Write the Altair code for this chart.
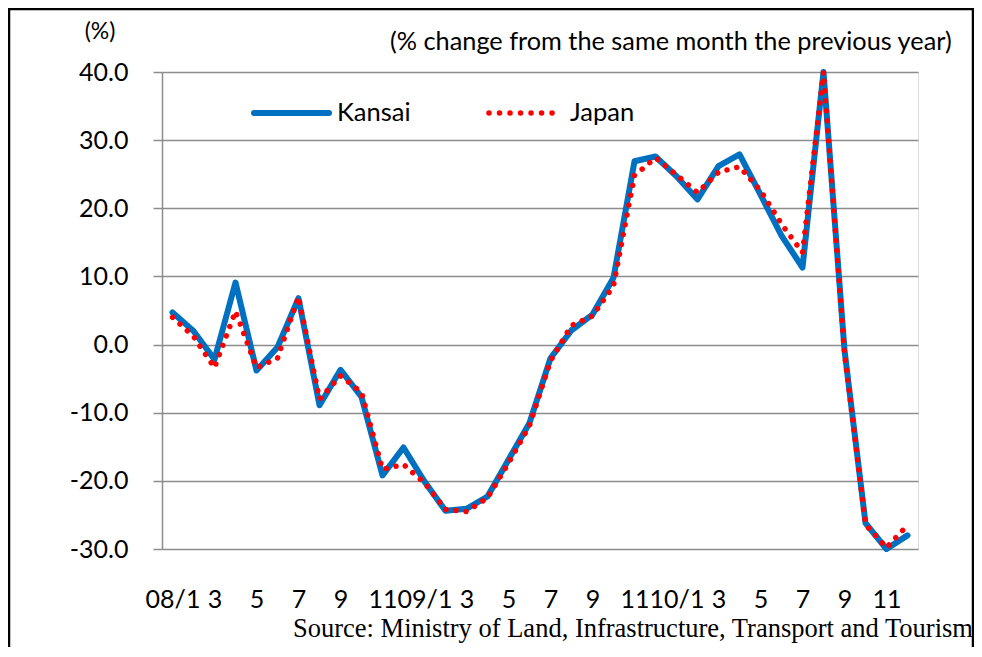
import altair as alt
import pandas as pd

months = ["08/1","08/2","08/3","08/4","08/5","08/6","08/7","08/8","08/9","08/10","08/11","08/12",
          "09/1","09/2","09/3","09/4","09/5","09/6","09/7","09/8","09/9","09/10","09/11","09/12",
          "10/1","10/2","10/3","10/4","10/5","10/6","10/7","10/8","10/9","10/10","10/11","10/12"]
tick_months = months[::2]

kansai = [4.7, 2.0, -2.2, 9.1, -3.8, -0.4, 6.8, -8.9, -3.7, -7.7, -19.2, -15.1,
          -20.1, -24.4, -24.1, -22.3, -16.9, -11.5, -2.0, 2.1, 4.4, 9.8, 26.9, 27.6,
          24.7, 21.3, 26.2, 27.9, 22.0, 16.0, 11.3, 40.0, -0.8, -26.2, -30.0, -28.0]
japan = [4.0, 1.2, -3.4, 4.9, -3.4, -2.0, 7.0, -8.0, -4.6, -7.0, -18.3, -17.6,
         -20.3, -24.2, -24.5, -22.5, -17.4, -11.9, -2.4, 2.8, 4.2, 8.6, 24.8, 27.4,
         24.9, 22.3, 25.3, 26.1, 22.6, 17.7, 13.5, 40.0, -1.3, -26.4, -29.8, -26.5]
y_ticks = [-30, -20, -10, 0, 10, 20, 30, 40]

df = pd.DataFrame({"month": months, "kansai": kansai, "japan": japan})

W, H = 756, 477
FONT = "Lato"
GRID = "#8c8c8c"

xenc = alt.X("month:O",
             scale=alt.Scale(type="point", domain=months, padding=0.5),
             axis=alt.Axis(values=tick_months, title=None, labelAngle=0, ticks=False,
                           domain=False, grid=False, labelPadding=38, labelFont=FONT,
                           labelFontSize=25, labelColor="black",
                           labelExpr="split(datum.value,'/')[1] == '1' ? datum.value : split(datum.value,'/')[1]"))
yscale = alt.Scale(domain=[-30, 40], nice=False, zero=False)

kansai_line = alt.Chart(df).mark_line(color="#0070C0", strokeWidth=6, strokeJoin="round", strokeCap="round").encode(
    x=xenc,
    y=alt.Y("kansai:Q", scale=yscale,
            axis=alt.Axis(values=y_ticks, title=None, grid=True, gridColor=GRID,
                          gridWidth=1.5, domainColor=GRID, domainWidth=1.5, tickColor=GRID,
                          tickSize=9, tickWidth=1.5, labelPadding=25, labelFont=FONT,
                          labelFontSize=25, labelColor="black",
                          labelExpr="(datum.value < 0 ? '-' : '') + format(abs(datum.value), '.1f')")),
)
japan_line = alt.Chart(df).mark_line(color="#FF0000", strokeWidth=5.5, strokeCap="round",
                                     strokeDash=[0.01, 10]).encode(
    x=alt.X("month:O", scale=alt.Scale(type="point", domain=months, padding=0.5)),
    y=alt.Y("japan:Q", scale=yscale),
)

one = pd.DataFrame({"a": [0]})

def txt(s, x, y, size, align="left", font=FONT):
    return alt.Chart(one).mark_text(text=s, align=align, baseline="middle", font=font,
                                    fontSize=size, color="black").encode(
        x=alt.value(x), y=alt.value(y))

leg_k = alt.Chart(one).mark_rule(color="#0070C0", strokeWidth=6, strokeCap="round").encode(
    x=alt.value(92), x2=alt.value(167), y=alt.value(41))
leg_j = alt.Chart(one).mark_rule(color="#FF0000", strokeWidth=5.5, strokeCap="round",
                                 strokeDash=[0.01, 10.5]).encode(
    x=alt.value(327), x2=alt.value(398), y=alt.value(41))

frame = alt.Chart(one).mark_rect(fillOpacity=0, stroke="black", strokeWidth=2.5).encode(
    x=alt.value(-153), x2=alt.value(W + 55), y=alt.value(-63), y2=alt.value(H + 200))

chart = alt.layer(
    kansai_line, japan_line,
    leg_k, leg_j,
    txt("Kansai", 175, 41, 25.5),
    txt("Japan", 408, 41, 25.5),
    txt("(%)", -62, -40, 23, align="center"),
    txt("(% change from the same month the previous year)", 228, -30, 25.3),
    txt("Source: Ministry of Land, Infrastructure, Transport and Tourism", 131, 557, 26.5,
        font="Liberation Serif"),
    frame,
).properties(
    width=W, height=H,
    autosize=alt.AutoSizeParams(type="none"),
    padding={"left": 154, "top": 64, "right": 56, "bottom": 98},
).configure_view(stroke=None).configure(background="white")

chart.save("out.html", embed_options={"renderer": "svg", "actions": False})
